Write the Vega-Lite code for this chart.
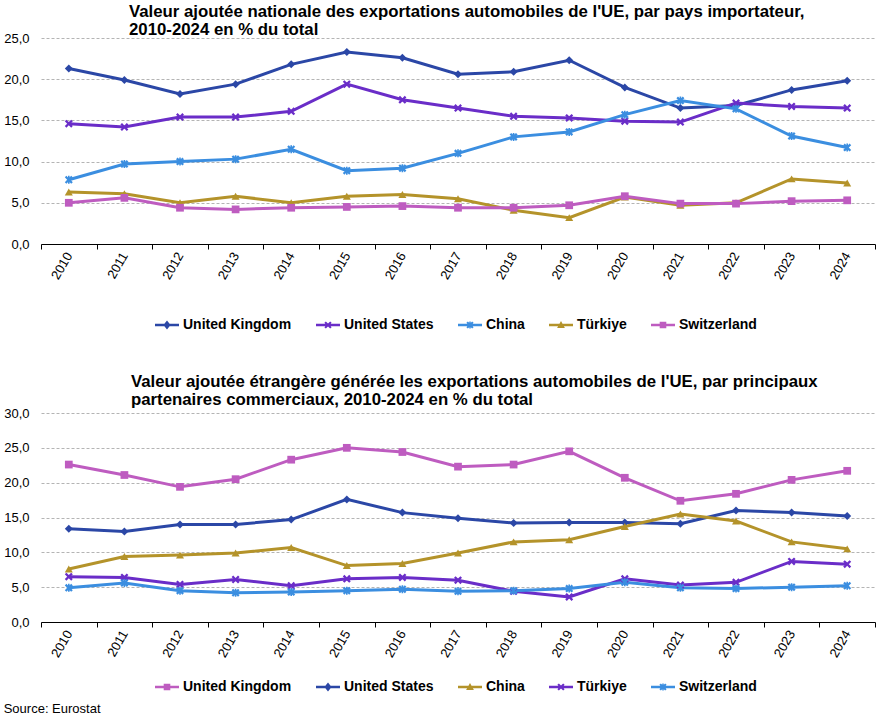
{
  "$schema": "https://vega.github.io/schema/vega-lite/v6.json",
  "background": "white",
  "padding": {"left": 3, "right": 4, "top": 4, "bottom": 4},
  "config": {
    "font": "Liberation Sans",
    "view": {"stroke": null},
    "axis": {"labelFont": "Liberation Sans", "labelFontSize": 13, "labelColor": "#000000", "title": null},
    "legend": {"labelFont": "Liberation Sans", "labelFontSize": 14, "labelFontWeight": "bold", "labelColor": "#000000", "layout": {"bottom": {"anchor": "middle"}}},
    "concat": {"spacing": 42}
  },
  "title": {"text": "Source: Eurostat", "orient": "bottom", "anchor": "start", "frame": "bounds", "fontSize": 13, "fontWeight": "normal", "font": "Liberation Sans", "color": "#000000", "offset": 9},
  "datasets": {
    "national": [
      {"country": "United Kingdom", "year": "2010", "value": 21.3},
      {"country": "United Kingdom", "year": "2011", "value": 19.9},
      {"country": "United Kingdom", "year": "2012", "value": 18.2},
      {"country": "United Kingdom", "year": "2013", "value": 19.4},
      {"country": "United Kingdom", "year": "2014", "value": 21.8},
      {"country": "United Kingdom", "year": "2015", "value": 23.3},
      {"country": "United Kingdom", "year": "2016", "value": 22.6},
      {"country": "United Kingdom", "year": "2017", "value": 20.6},
      {"country": "United Kingdom", "year": "2018", "value": 20.9},
      {"country": "United Kingdom", "year": "2019", "value": 22.3},
      {"country": "United Kingdom", "year": "2020", "value": 19.0},
      {"country": "United Kingdom", "year": "2021", "value": 16.5},
      {"country": "United Kingdom", "year": "2022", "value": 16.8},
      {"country": "United Kingdom", "year": "2023", "value": 18.7},
      {"country": "United Kingdom", "year": "2024", "value": 19.8},
      {"country": "United States", "year": "2010", "value": 14.6},
      {"country": "United States", "year": "2011", "value": 14.2},
      {"country": "United States", "year": "2012", "value": 15.4},
      {"country": "United States", "year": "2013", "value": 15.4},
      {"country": "United States", "year": "2014", "value": 16.1},
      {"country": "United States", "year": "2015", "value": 19.4},
      {"country": "United States", "year": "2016", "value": 17.5},
      {"country": "United States", "year": "2017", "value": 16.5},
      {"country": "United States", "year": "2018", "value": 15.5},
      {"country": "United States", "year": "2019", "value": 15.3},
      {"country": "United States", "year": "2020", "value": 14.9},
      {"country": "United States", "year": "2021", "value": 14.8},
      {"country": "United States", "year": "2022", "value": 17.1},
      {"country": "United States", "year": "2023", "value": 16.7},
      {"country": "United States", "year": "2024", "value": 16.5},
      {"country": "China", "year": "2010", "value": 7.8},
      {"country": "China", "year": "2011", "value": 9.7},
      {"country": "China", "year": "2012", "value": 10.0},
      {"country": "China", "year": "2013", "value": 10.3},
      {"country": "China", "year": "2014", "value": 11.5},
      {"country": "China", "year": "2015", "value": 8.9},
      {"country": "China", "year": "2016", "value": 9.2},
      {"country": "China", "year": "2017", "value": 11.0},
      {"country": "China", "year": "2018", "value": 13.0},
      {"country": "China", "year": "2019", "value": 13.6},
      {"country": "China", "year": "2020", "value": 15.7},
      {"country": "China", "year": "2021", "value": 17.4},
      {"country": "China", "year": "2022", "value": 16.4},
      {"country": "China", "year": "2023", "value": 13.1},
      {"country": "China", "year": "2024", "value": 11.7},
      {"country": "Türkiye", "year": "2010", "value": 6.3},
      {"country": "Türkiye", "year": "2011", "value": 6.1},
      {"country": "Türkiye", "year": "2012", "value": 5.0},
      {"country": "Türkiye", "year": "2013", "value": 5.8},
      {"country": "Türkiye", "year": "2014", "value": 5.0},
      {"country": "Türkiye", "year": "2015", "value": 5.8},
      {"country": "Türkiye", "year": "2016", "value": 6.0},
      {"country": "Türkiye", "year": "2017", "value": 5.5},
      {"country": "Türkiye", "year": "2018", "value": 4.1},
      {"country": "Türkiye", "year": "2019", "value": 3.2},
      {"country": "Türkiye", "year": "2020", "value": 5.7},
      {"country": "Türkiye", "year": "2021", "value": 4.7},
      {"country": "Türkiye", "year": "2022", "value": 5.0},
      {"country": "Türkiye", "year": "2023", "value": 7.9},
      {"country": "Türkiye", "year": "2024", "value": 7.4},
      {"country": "Switzerland", "year": "2010", "value": 5.0},
      {"country": "Switzerland", "year": "2011", "value": 5.6},
      {"country": "Switzerland", "year": "2012", "value": 4.4},
      {"country": "Switzerland", "year": "2013", "value": 4.2},
      {"country": "Switzerland", "year": "2014", "value": 4.4},
      {"country": "Switzerland", "year": "2015", "value": 4.5},
      {"country": "Switzerland", "year": "2016", "value": 4.6},
      {"country": "Switzerland", "year": "2017", "value": 4.4},
      {"country": "Switzerland", "year": "2018", "value": 4.4},
      {"country": "Switzerland", "year": "2019", "value": 4.7},
      {"country": "Switzerland", "year": "2020", "value": 5.8},
      {"country": "Switzerland", "year": "2021", "value": 4.9},
      {"country": "Switzerland", "year": "2022", "value": 4.9},
      {"country": "Switzerland", "year": "2023", "value": 5.2},
      {"country": "Switzerland", "year": "2024", "value": 5.3}
    ],
    "etrangere": [
      {"country": "United Kingdom", "year": "2010", "value": 22.6},
      {"country": "United Kingdom", "year": "2011", "value": 21.1},
      {"country": "United Kingdom", "year": "2012", "value": 19.4},
      {"country": "United Kingdom", "year": "2013", "value": 20.5},
      {"country": "United Kingdom", "year": "2014", "value": 23.3},
      {"country": "United Kingdom", "year": "2015", "value": 25.0},
      {"country": "United Kingdom", "year": "2016", "value": 24.4},
      {"country": "United Kingdom", "year": "2017", "value": 22.3},
      {"country": "United Kingdom", "year": "2018", "value": 22.6},
      {"country": "United Kingdom", "year": "2019", "value": 24.5},
      {"country": "United Kingdom", "year": "2020", "value": 20.7},
      {"country": "United Kingdom", "year": "2021", "value": 17.4},
      {"country": "United Kingdom", "year": "2022", "value": 18.4},
      {"country": "United Kingdom", "year": "2023", "value": 20.4},
      {"country": "United Kingdom", "year": "2024", "value": 21.7},
      {"country": "United States", "year": "2010", "value": 13.4},
      {"country": "United States", "year": "2011", "value": 13.0},
      {"country": "United States", "year": "2012", "value": 14.0},
      {"country": "United States", "year": "2013", "value": 14.0},
      {"country": "United States", "year": "2014", "value": 14.7},
      {"country": "United States", "year": "2015", "value": 17.6},
      {"country": "United States", "year": "2016", "value": 15.7},
      {"country": "United States", "year": "2017", "value": 14.9},
      {"country": "United States", "year": "2018", "value": 14.2},
      {"country": "United States", "year": "2019", "value": 14.3},
      {"country": "United States", "year": "2020", "value": 14.3},
      {"country": "United States", "year": "2021", "value": 14.1},
      {"country": "United States", "year": "2022", "value": 16.0},
      {"country": "United States", "year": "2023", "value": 15.7},
      {"country": "United States", "year": "2024", "value": 15.2},
      {"country": "China", "year": "2010", "value": 7.6},
      {"country": "China", "year": "2011", "value": 9.4},
      {"country": "China", "year": "2012", "value": 9.6},
      {"country": "China", "year": "2013", "value": 9.9},
      {"country": "China", "year": "2014", "value": 10.7},
      {"country": "China", "year": "2015", "value": 8.1},
      {"country": "China", "year": "2016", "value": 8.4},
      {"country": "China", "year": "2017", "value": 9.9},
      {"country": "China", "year": "2018", "value": 11.5},
      {"country": "China", "year": "2019", "value": 11.8},
      {"country": "China", "year": "2020", "value": 13.7},
      {"country": "China", "year": "2021", "value": 15.5},
      {"country": "China", "year": "2022", "value": 14.5},
      {"country": "China", "year": "2023", "value": 11.5},
      {"country": "China", "year": "2024", "value": 10.5},
      {"country": "Türkiye", "year": "2010", "value": 6.5},
      {"country": "Türkiye", "year": "2011", "value": 6.4},
      {"country": "Türkiye", "year": "2012", "value": 5.4},
      {"country": "Türkiye", "year": "2013", "value": 6.1},
      {"country": "Türkiye", "year": "2014", "value": 5.2},
      {"country": "Türkiye", "year": "2015", "value": 6.2},
      {"country": "Türkiye", "year": "2016", "value": 6.4},
      {"country": "Türkiye", "year": "2017", "value": 6.0},
      {"country": "Türkiye", "year": "2018", "value": 4.4},
      {"country": "Türkiye", "year": "2019", "value": 3.6},
      {"country": "Türkiye", "year": "2020", "value": 6.2},
      {"country": "Türkiye", "year": "2021", "value": 5.3},
      {"country": "Türkiye", "year": "2022", "value": 5.7},
      {"country": "Türkiye", "year": "2023", "value": 8.7},
      {"country": "Türkiye", "year": "2024", "value": 8.3},
      {"country": "Switzerland", "year": "2010", "value": 4.9},
      {"country": "Switzerland", "year": "2011", "value": 5.6},
      {"country": "Switzerland", "year": "2012", "value": 4.5},
      {"country": "Switzerland", "year": "2013", "value": 4.2},
      {"country": "Switzerland", "year": "2014", "value": 4.3},
      {"country": "Switzerland", "year": "2015", "value": 4.5},
      {"country": "Switzerland", "year": "2016", "value": 4.7},
      {"country": "Switzerland", "year": "2017", "value": 4.4},
      {"country": "Switzerland", "year": "2018", "value": 4.5},
      {"country": "Switzerland", "year": "2019", "value": 4.8},
      {"country": "Switzerland", "year": "2020", "value": 5.7},
      {"country": "Switzerland", "year": "2021", "value": 4.9},
      {"country": "Switzerland", "year": "2022", "value": 4.8},
      {"country": "Switzerland", "year": "2023", "value": 5.0},
      {"country": "Switzerland", "year": "2024", "value": 5.2}
    ]
  },
  "vconcat": [
    {
      "title": {"text": ["Valeur ajoutée nationale des exportations automobiles de l'UE, par pays importateur,", "2010-2024 en % du total"], "anchor": "start", "frame": "group", "dx": 88, "fontSize": 16.8, "fontWeight": "bold", "font": "Liberation Sans", "color": "#000000", "offset": -7, "lineHeight": 18},
      "width": 834,
      "height": 206,
      "data": {"name": "national"},
      "encoding": {
        "x": {"field": "year", "type": "ordinal", "scale": {"type": "band", "paddingInner": 0, "paddingOuter": 0}, "axis": {"tickBand": "extent", "labelAngle": -60, "labelAlign": "right", "labelBaseline": "middle", "labelPadding": 4, "domainColor": "#000000", "tickColor": "#000000", "tickSize": 5, "domainWidth": 1, "grid": false}},
        "y": {"field": "value", "type": "quantitative", "scale": {"domain": [0, 25]}, "axis": {"values": [0, 5, 10, 15, 20, 25], "labelExpr": "replace(format(datum.value, '.1f'), '.', ',')", "grid": true, "gridDash": [3, 2], "gridColor": "#b4b4b4", "domain": false, "ticks": false, "labelPadding": 12}},
        "color": {"field": "country", "type": "nominal", "scale": {"domain": ["United Kingdom", "United States", "China", "Türkiye", "Switzerland"], "range": ["#2b47a6", "#6a2dc8", "#3b8ee0", "#b4932a", "#be5cc0"]}, "legend": {"orient": "bottom", "direction": "horizontal", "title": null, "offset": 36, "symbolSize": 144, "symbolOpacity": 1, "symbolStrokeWidth": 0, "labelOffset": 9, "columnPadding": 24}}
      },
      "layer": [
        {"mark": {"type": "line", "strokeWidth": 3}},
        {"transform": [{"filter": {"field": "country", "equal": "United Kingdom"}}], "mark": {"type": "point", "shape": "diamond", "filled": true, "size": 64, "opacity": 1}},
        {"transform": [{"filter": {"field": "country", "equal": "United States"}}], "mark": {"type": "point", "shape": "M-1,-0.6L-0.6,-1L0,-0.4L0.6,-1L1,-0.6L0.4,0L1,0.6L0.6,1L0,0.4L-0.6,1L-1,0.6L-0.4,0Z", "filled": true, "size": 64, "opacity": 1}},
        {"transform": [{"filter": {"field": "country", "equal": "China"}}], "mark": {"type": "point", "shape": "M-1,-0.6L-0.6,-1L0,-0.4L0.6,-1L1,-0.6L0.4,0L1,0.6L0.6,1L0,0.4L-0.6,1L-1,0.6L-0.4,0ZM-0.2,-1L0.2,-1L0.2,1L-0.2,1Z", "filled": true, "size": 64, "opacity": 1}},
        {"transform": [{"filter": {"field": "country", "equal": "Türkiye"}}], "mark": {"type": "point", "shape": "triangle-up", "filled": true, "size": 64, "opacity": 1}},
        {"transform": [{"filter": {"field": "country", "equal": "Switzerland"}}], "mark": {"type": "point", "shape": "square", "filled": true, "size": 60, "opacity": 1}},
        {"mark": {"type": "point", "filled": true, "size": 144, "opacity": 0}, "encoding": {"shape": {"field": "country", "type": "nominal", "scale": {"domain": ["United Kingdom", "United States", "China", "Türkiye", "Switzerland"], "range": [
          "M-2,-0.22L2,-0.22L2,0.22L-2,0.22ZM0,-0.75L0.6,0L0,0.75L-0.6,0Z",
          "M-2,-0.22L2,-0.22L2,0.22L-2,0.22ZM-0.6,-0.36L-0.36,-0.6L0,-0.24L0.36,-0.6L0.6,-0.36L0.24,0L0.6,0.36L0.36,0.6L0,0.24L-0.36,0.6L-0.6,0.36L-0.24,0Z",
          "M-2,-0.22L2,-0.22L2,0.22L-2,0.22ZM-0.6,-0.36L-0.36,-0.6L0,-0.24L0.36,-0.6L0.6,-0.36L0.24,0L0.6,0.36L0.36,0.6L0,0.24L-0.36,0.6L-0.6,0.36L-0.24,0ZM-0.12,-0.6L0.12,-0.6L0.12,0.6L-0.12,0.6Z",
          "M-2,-0.22L2,-0.22L2,0.22L-2,0.22ZM0,-0.65L0.65,0.5L-0.65,0.5Z",
          "M-2,-0.22L2,-0.22L2,0.22L-2,0.22ZM-0.55,-0.55L0.55,-0.55L0.55,0.55L-0.55,0.55Z"]}, "legend": {"orient": "bottom", "direction": "horizontal", "title": null, "offset": 36, "symbolSize": 144, "symbolOpacity": 1, "symbolStrokeWidth": 0, "labelOffset": 9, "columnPadding": 24}}}}
      ]
    },
    {
      "title": {"text": ["Valeur ajoutée étrangère générée les exportations automobiles de l'UE, par principaux", "partenaires commerciaux, 2010-2024 en % du total"], "anchor": "start", "frame": "group", "dx": 90, "fontSize": 16.8, "fontWeight": "bold", "font": "Liberation Sans", "color": "#000000", "offset": -2, "lineHeight": 18},
      "width": 834,
      "height": 209,
      "data": {"name": "etrangere"},
      "encoding": {
        "x": {"field": "year", "type": "ordinal", "scale": {"type": "band", "paddingInner": 0, "paddingOuter": 0}, "axis": {"tickBand": "extent", "labelAngle": -60, "labelAlign": "right", "labelBaseline": "middle", "labelPadding": 4, "domainColor": "#000000", "tickColor": "#000000", "tickSize": 5, "domainWidth": 1, "grid": false}},
        "y": {"field": "value", "type": "quantitative", "scale": {"domain": [0, 30]}, "axis": {"values": [0, 5, 10, 15, 20, 25, 30], "labelExpr": "replace(format(datum.value, '.1f'), '.', ',')", "grid": true, "gridDash": [3, 2], "gridColor": "#b4b4b4", "domain": false, "ticks": false, "labelPadding": 12}},
        "color": {"field": "country", "type": "nominal", "scale": {"domain": ["United Kingdom", "United States", "China", "Türkiye", "Switzerland"], "range": ["#be5cc0", "#2b47a6", "#b4932a", "#6a2dc8", "#3b8ee0"]}, "legend": {"orient": "bottom", "direction": "horizontal", "title": null, "offset": 20, "symbolSize": 144, "symbolOpacity": 1, "symbolStrokeWidth": 0, "labelOffset": 9, "columnPadding": 24}}
      },
      "layer": [
        {"mark": {"type": "line", "strokeWidth": 3}},
        {"transform": [{"filter": {"field": "country", "equal": "United Kingdom"}}], "mark": {"type": "point", "shape": "square", "filled": true, "size": 60, "opacity": 1}},
        {"transform": [{"filter": {"field": "country", "equal": "United States"}}], "mark": {"type": "point", "shape": "diamond", "filled": true, "size": 64, "opacity": 1}},
        {"transform": [{"filter": {"field": "country", "equal": "China"}}], "mark": {"type": "point", "shape": "triangle-up", "filled": true, "size": 64, "opacity": 1}},
        {"transform": [{"filter": {"field": "country", "equal": "Türkiye"}}], "mark": {"type": "point", "shape": "M-1,-0.6L-0.6,-1L0,-0.4L0.6,-1L1,-0.6L0.4,0L1,0.6L0.6,1L0,0.4L-0.6,1L-1,0.6L-0.4,0Z", "filled": true, "size": 64, "opacity": 1}},
        {"transform": [{"filter": {"field": "country", "equal": "Switzerland"}}], "mark": {"type": "point", "shape": "M-1,-0.6L-0.6,-1L0,-0.4L0.6,-1L1,-0.6L0.4,0L1,0.6L0.6,1L0,0.4L-0.6,1L-1,0.6L-0.4,0ZM-0.2,-1L0.2,-1L0.2,1L-0.2,1Z", "filled": true, "size": 64, "opacity": 1}},
        {"mark": {"type": "point", "filled": true, "size": 144, "opacity": 0}, "encoding": {"shape": {"field": "country", "type": "nominal", "scale": {"domain": ["United Kingdom", "United States", "China", "Türkiye", "Switzerland"], "range": [
          "M-2,-0.22L2,-0.22L2,0.22L-2,0.22ZM-0.55,-0.55L0.55,-0.55L0.55,0.55L-0.55,0.55Z",
          "M-2,-0.22L2,-0.22L2,0.22L-2,0.22ZM0,-0.75L0.6,0L0,0.75L-0.6,0Z",
          "M-2,-0.22L2,-0.22L2,0.22L-2,0.22ZM0,-0.65L0.65,0.5L-0.65,0.5Z",
          "M-2,-0.22L2,-0.22L2,0.22L-2,0.22ZM-0.6,-0.36L-0.36,-0.6L0,-0.24L0.36,-0.6L0.6,-0.36L0.24,0L0.6,0.36L0.36,0.6L0,0.24L-0.36,0.6L-0.6,0.36L-0.24,0Z",
          "M-2,-0.22L2,-0.22L2,0.22L-2,0.22ZM-0.6,-0.36L-0.36,-0.6L0,-0.24L0.36,-0.6L0.6,-0.36L0.24,0L0.6,0.36L0.36,0.6L0,0.24L-0.36,0.6L-0.6,0.36L-0.24,0ZM-0.12,-0.6L0.12,-0.6L0.12,0.6L-0.12,0.6Z"]}, "legend": {"orient": "bottom", "direction": "horizontal", "title": null, "offset": 20, "symbolSize": 144, "symbolOpacity": 1, "symbolStrokeWidth": 0, "labelOffset": 9, "columnPadding": 24}}}}
      ]
    }
  ],
  "resolve": {"scale": {"color": "independent", "shape": "independent"}, "legend": {"color": "independent", "shape": "independent"}}
}
